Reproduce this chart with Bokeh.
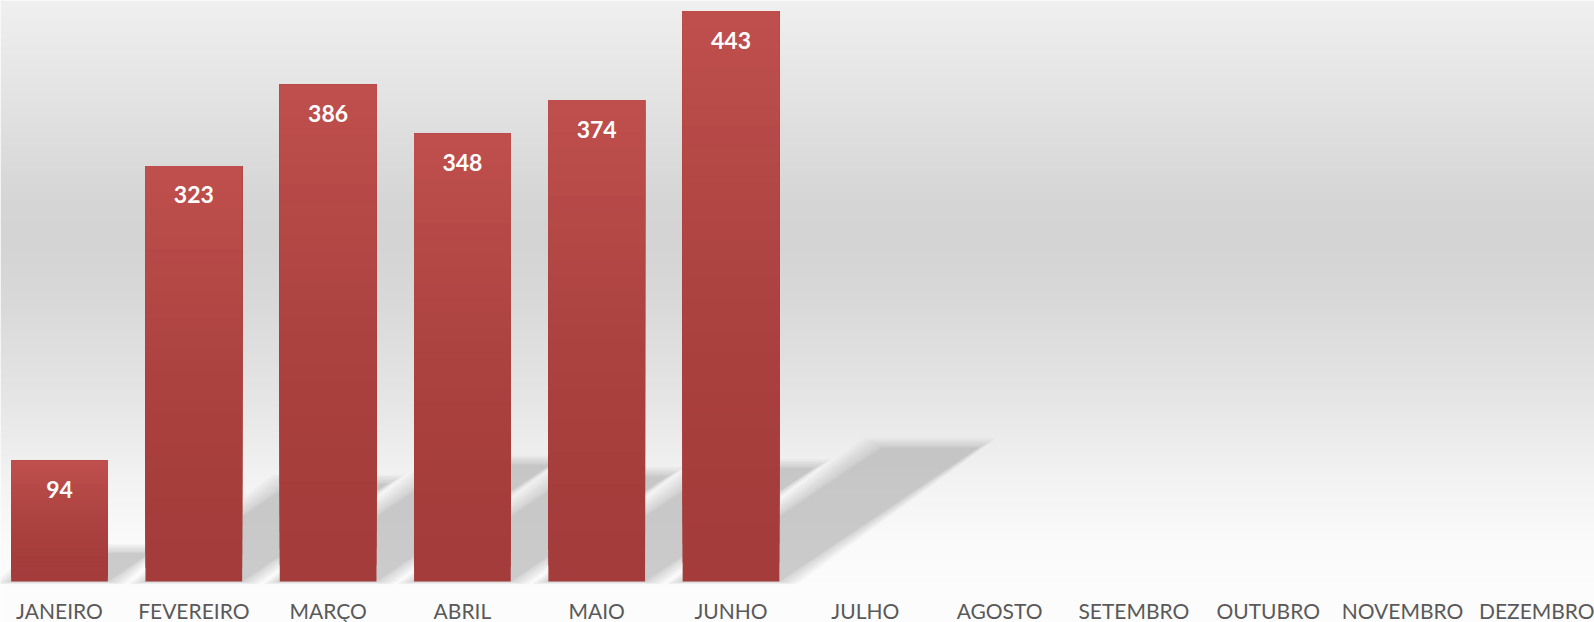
import numpy as np
from bokeh.plotting import figure
from bokeh.models import Range1d
from bokeh.core.properties import value
from bokeh.embed import file_html
from bokeh.resources import INLINE

categories = ["JANEIRO", "FEVEREIRO", "MARÇO", "ABRIL", "MAIO", "JUNHO",
              "JULHO", "AGOSTO", "SETEMBRO", "OUTUBRO", "NOVEMBRO", "DEZEMBRO"]
values = [94, 323, 386, 348, 374, 443]

W, H = 1594, 622
PX_CAT = 134.3      # pixels per category
PX_UNIT = 1.2867    # pixels per value unit
BASE = 581          # canvas y of value 0

x_start = 8.15 / PX_CAT
x_end = x_start + W / PX_CAT
y_start = -(H - BASE) / PX_UNIT
y_end = BASE / PX_UNIT

p = figure(width=W, height=H, x_range=Range1d(x_start, x_end),
           y_range=Range1d(y_start, y_end), output_backend="svg",
           toolbar_location=None, x_axis_type=None, y_axis_type=None,
           min_border=0, outline_line_color=None,
           background_fill_color="#FCFCFC", border_fill_color="#FCFCFC")

# background vertical gradient (style only)
stops_y = [0, 100, 200, 240, 300, 400, 480, 540, 581]
stops_c = [240, 227, 214, 212, 217, 230, 243, 250, 252]
rows = BASE
page_y = BASE - (np.arange(rows) + 0.5)
g = np.interp(page_y, stops_y, stops_c).astype(np.uint32)
img = (255 << 24) | (g << 16) | (g << 8) | g
img = img.reshape(rows, 1).astype(np.uint32)
p.image_rgba(image=[img], x=x_start, y=0, dw=x_end - x_start, dh=y_end)

bw = 0.72
centers = [i + 0.5 for i in range(len(values))]

# blurred perspective shadows
layers = [(0.13, 0.06), (0.11, 0.06), (0.09, 0.07), (0.07, 0.07),
          (0.05, 0.08), (0.03, 0.08), (0.015, 0.09), (0.0, 0.15)]
for grow, alpha in layers:
    xs, ys = [], []
    for c, v in zip(centers, values):
        dx = v * 0.00335
        hs = v * 0.235
        l, r = c - bw / 2, c + bw / 2
        gy = grow * 55
        xs.append([l - grow, r + grow, r + dx + grow, l + dx - grow])
        ys.append([-gy * 0.3, -gy * 0.3, hs + gy, hs + gy])
    p.patches(xs, ys, fill_color="#A0A0A0", fill_alpha=alpha, line_color=None)

# bars with vertical gradient
top_c = np.array([0xC0, 0x50, 0x4D])
bot_c = np.array([0xA3, 0x3C, 0x3A])
N = 30
for k in range(N):
    f = k / N
    col = bot_c + (top_c - bot_c) * (f ** 1.5)
    hexc = "#%02x%02x%02x" % tuple(int(round(t)) for t in col)
    p.quad(left=[c - bw / 2 for c in centers], right=[c + bw / 2 for c in centers],
           bottom=[v * f for v in values], top=values,
           fill_color=hexc, line_color=None)

# data labels
p.text(x=centers, y=values, text=[str(v) for v in values], text_color="white",
       text_font=value("Lato"), text_font_style="bold", text_font_size="23px",
       text_align="center", text_baseline="middle", y_offset=29)

# category labels
p.text(x=[i + 0.5 for i in range(len(categories))], y=[0] * len(categories),
       text=categories, text_color="#595959", text_font=value("Lato"),
       text_font_size="21px", text_align="center", text_baseline="alphabetic",
       y_offset=29)

open("out.html", "w").write(file_html(p, INLINE))
